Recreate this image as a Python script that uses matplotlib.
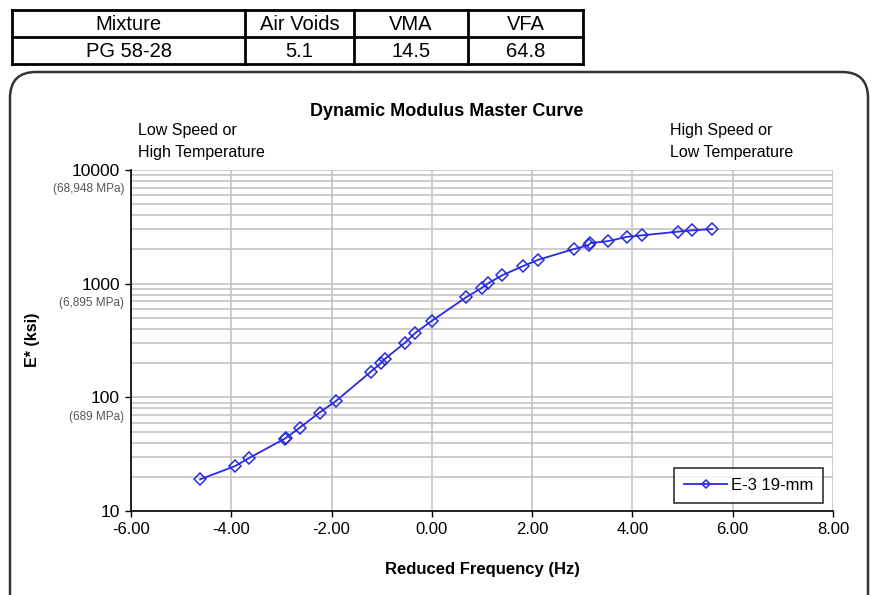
import matplotlib
matplotlib.use("Agg")
import matplotlib.pyplot as plt
import numpy as np
from matplotlib.patches import FancyBboxPatch
from matplotlib.transforms import IdentityTransform
from matplotlib.lines import Line2D
from matplotlib.ticker import FixedLocator, NullFormatter, LogLocator

plt.rcParams['font.family'] = ['Liberation Sans', 'DejaVu Sans']

# Data
table_headers = ["Mixture", "Air Voids", "VMA", "VFA"]
table_values = ["PG 58-28", "5.1", "14.5", "64.8"]

reduced_freq = [-4.62, -3.93, -3.64, -2.93, -2.90, -2.63, -2.24, -1.91, -1.22, -1.01,
                -0.94, -0.54, -0.33, 0.00, 0.69, 1.00, 1.12, 1.40, 1.82, 2.12,
                2.83, 3.13, 3.16, 3.52, 3.90, 4.19, 4.90, 5.19, 5.59]
modulus = [19.0, 24.8, 29.3, 43.4, 44.3, 54.2, 73.5, 93.0, 167.5, 201,
           217, 301, 369, 471, 762, 920, 1005, 1183, 1429, 1622,
           2014, 2185, 2276, 2370, 2586, 2661, 2864, 2945, 3020]
series_name = "E-3 19-mm"

ytick_vals = [10, 100, 1000, 10000]
ytick_labels = ["10", "100", "1000", "10000"]
mpa_labels = {100: "(689 MPa)", 1000: "(6,895 MPa)", 10000: "(68,948 MPa)"}
xtick_vals = [-6, -4, -2, 0, 2, 4, 6, 8]

W, H = 872, 595
fig = plt.figure(figsize=(W / 100, H / 100), dpi=100)
fig.patch.set_facecolor('white')

ident = IdentityTransform()

def Y(py):
    return H - py

# Table
col_edges = [12, 245, 354, 468, 583]
row_edges = [10, 37, 64]
lw = 2.0
for x in col_edges:
    fig.add_artist(Line2D([x, x], [Y(row_edges[0]), Y(row_edges[-1])], transform=ident,
                          color='black', lw=lw))
for y in row_edges:
    fig.add_artist(Line2D([col_edges[0], col_edges[-1]], [Y(y), Y(y)], transform=ident,
                          color='black', lw=lw))
for i in range(4):
    cx = (col_edges[i] + col_edges[i + 1]) / 2
    fig.text(cx, Y((row_edges[0] + row_edges[1]) / 2 + 1), table_headers[i], transform=ident,
             ha='center', va='center', fontsize=14.5)
    fig.text(cx, Y((row_edges[1] + row_edges[2]) / 2 + 1), table_values[i], transform=ident,
             ha='center', va='center', fontsize=14.5)

# Rounded frame
frame = FancyBboxPatch((10, -30), 858, H - 72 + 30,
                       boxstyle="round,pad=0,rounding_size=26",
                       transform=ident, fill=False, edgecolor='#333333', lw=1.8)
fig.add_artist(frame)

# Axes
left, right, top, bottom = 131, 833, 170, 511
ax = fig.add_axes([left / W, 1 - bottom / H, (right - left) / W, (bottom - top) / H])
ax.set_yscale('log')
ax.set_xlim(-6, 8)
ax.set_ylim(10, 10000)

blue = '#2a2ae0'
ax.plot(reduced_freq, modulus, color=blue, lw=1.3, marker='D', markersize=6,
        markerfacecolor='none', markeredgecolor=blue, markeredgewidth=1.1, label=series_name)

ax.set_xticks(xtick_vals)
ax.set_xticklabels([f"{v:.2f}" for v in xtick_vals], fontsize=12)
ax.yaxis.set_major_locator(FixedLocator(ytick_vals))
ax.set_yticklabels(ytick_labels, fontsize=12.5)
ax.yaxis.set_minor_locator(LogLocator(base=10, subs=np.arange(2, 10)))
ax.yaxis.set_minor_formatter(NullFormatter())
ax.tick_params(axis='y', which='minor', length=0)
ax.tick_params(axis='both', which='major', direction='out', length=4, width=1, pad=4)
ax.tick_params(axis='y', which='major', pad=4)

ax.grid(True, which='major', axis='both', color='#c4c4c4', lw=1.2)
ax.grid(True, which='minor', axis='y', color='#c4c4c4', lw=1.2)
ax.set_axisbelow(True)
for s in ['top', 'right']:
    ax.spines[s].set_visible(False)
for s in ['left', 'bottom']:
    ax.spines[s].set_linewidth(1.2)

for v, lab in mpa_labels.items():
    ax.annotate(lab, xy=(0, v), xycoords=('axes fraction', 'data'),
                xytext=(-5, -14), textcoords='offset points',
                ha='right', va='center', fontsize=8.5, color='#555555')

ax.set_xlabel("Reduced Frequency (Hz)", fontsize=12, fontweight='bold', labelpad=18)
fig.text(33, Y(340), "E* (ksi)", transform=ident, rotation=90, ha='center', va='center',
         fontsize=11.5, fontweight='bold')

# Title & annotations
fig.text(447, Y(112), "Dynamic Modulus Master Curve", transform=ident,
         ha='center', va='center', fontsize=13, fontweight='bold')
fig.text(138, Y(130), "Low Speed or", transform=ident, ha='left', va='center', fontsize=11.5)
fig.text(138, Y(153), "High Temperature", transform=ident, ha='left', va='center', fontsize=11.5)
fig.text(670, Y(130), "High Speed or", transform=ident, ha='left', va='center', fontsize=11.5)
fig.text(670, Y(153), "Low Temperature", transform=ident, ha='left', va='center', fontsize=11.5)

leg = ax.legend(loc='lower right',
                bbox_to_anchor=((823 - left) / (right - left), (bottom - 503) / (bottom - top)),
                borderaxespad=0, fontsize=12, frameon=True, fancybox=False, edgecolor='black',
                borderpad=0.6, handlelength=2.6, handletextpad=0.2, markerscale=0.75)
leg.get_frame().set_linewidth(1.2)

fig.savefig("out.png", dpi=100)
